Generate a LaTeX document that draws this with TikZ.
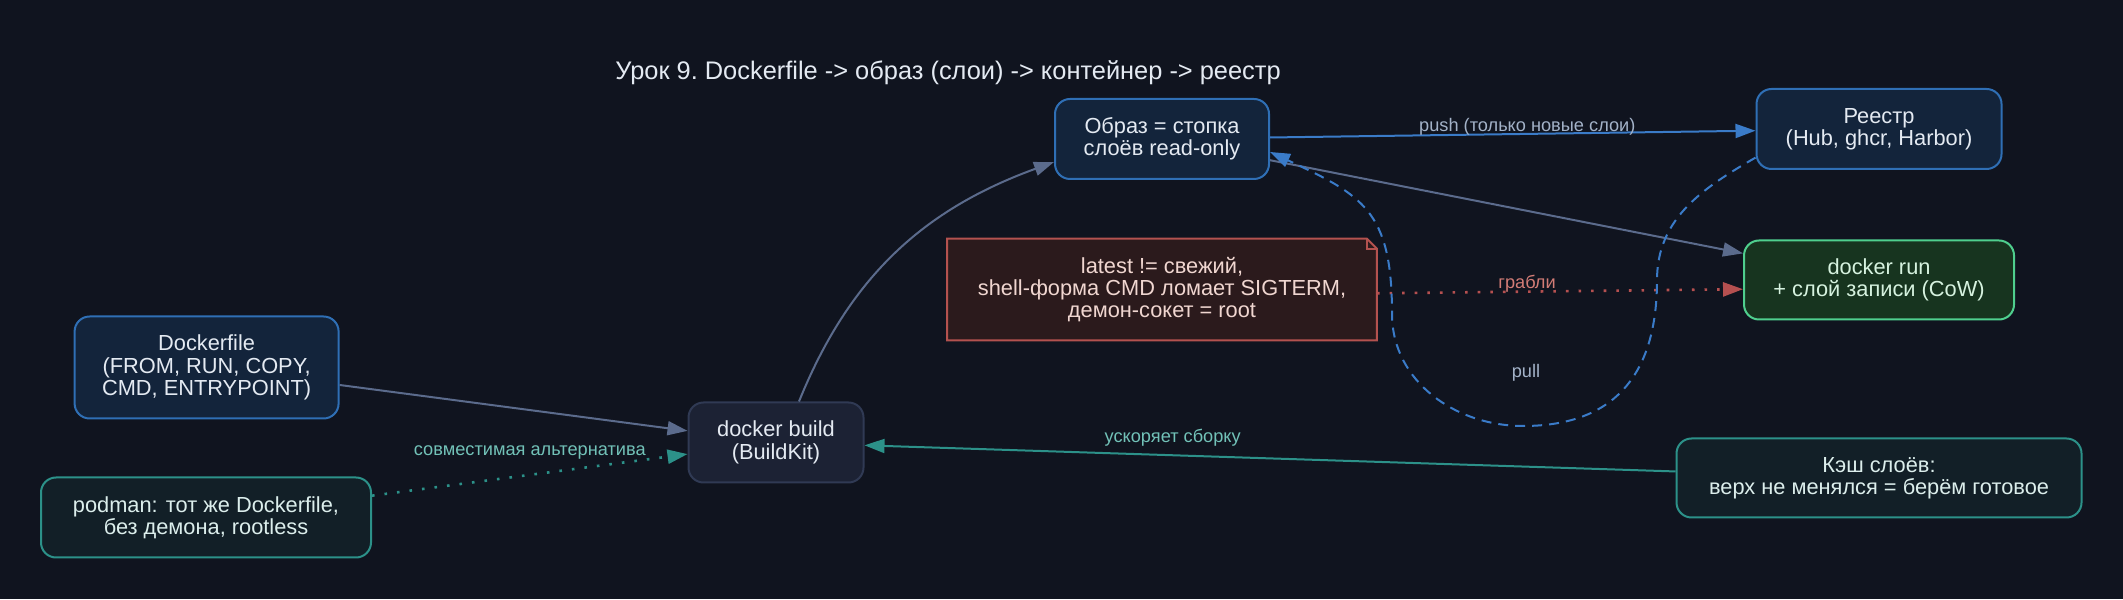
\documentclass[tikz,border=0pt]{standalone}
\usepackage{fontspec}
\setmainfont{Liberation Sans}
\usetikzlibrary{arrows.meta,backgrounds}

% colours
\definecolor{bgdark}{HTML}{10141F}
\definecolor{bluefill}{HTML}{13243B}
\definecolor{blueline}{HTML}{2F6FB5}
\definecolor{buildfill}{HTML}{1C2234}
\definecolor{buildline}{HTML}{303A54}
\definecolor{greenfill}{HTML}{17341F}
\definecolor{greenline}{HTML}{4FCF8E}
\definecolor{tealfill}{HTML}{121F27}
\definecolor{tealline}{HTML}{2C9189}
\definecolor{notefill}{HTML}{2B1A1C}
\definecolor{noteline}{HTML}{B4524F}
\definecolor{slateline}{HTML}{5B6B8C}
\definecolor{arrowblue}{HTML}{3A7BC8}
\definecolor{arrowred}{HTML}{B55050}
\definecolor{boxtext}{HTML}{E4EAF2}
\definecolor{greentext}{HTML}{D6F2DF}
\definecolor{tealtext}{HTML}{DCEEEC}
\definecolor{notetext}{HTML}{F0D6D0}
\definecolor{lblgray}{HTML}{A3B2C8}
\definecolor{lblteal}{HTML}{72C2B8}
\definecolor{lblred}{HTML}{D27C76}

\newcommand\boxfont{\fontsize{10.9}{11.2}\selectfont}
\newcommand\lblfont{\fontsize{9.1}{9.5}\selectfont}
\newcommand\headfont{\fontsize{12.7}{14}\selectfont}

\tikzset{
    box/.style={rounded corners=7.5pt, line width=1pt, align=center, font=\boxfont, inner sep=0pt},
    bluebox/.style={box, fill=bluefill, draw=blueline, text=boxtext},
    buildbox/.style={box, fill=buildfill, draw=buildline, text=boxtext},
    greenbox/.style={box, fill=greenfill, draw=greenline, text=greentext},
    tealbox/.style={box, fill=tealfill, draw=tealline, text=tealtext},
    notebox/.style={align=center, font=\boxfont, inner sep=0pt, text=notetext},
    flow/.style={line width=1pt, -{Triangle[length=10pt,width=7pt]}},
    dots/.style={line width=1.3pt, dash pattern=on 1.3pt off 5pt},
    dashes/.style={dash pattern=on 5pt off 3.5pt},
    lbl/.style={font=\lblfont, inner sep=1pt},
}

\begin{document}
\begin{tikzpicture}[x=0.5pt,y=0.5pt]
    % Define dimensions
    \def\picwidth{2123}
    \def\picheight{599}
    \useasboundingbox (0,0) rectangle (\picwidth,\picheight);
    % Title
    \node[font=\headfont, text=boxtext] (title) at (948,526) {\frenchspacing Урок 9. Dockerfile -> образ (слои) -> контейнер -> реестр};
    % Boxes
    \node[bluebox, minimum width=132pt, minimum height=51pt] (dockerfile) at (206.6,231.5) {Dockerfile\\(FROM, RUN, COPY,\\CMD, ENTRYPOINT)};
    \node[tealbox, minimum width=165pt, minimum height=40pt] (podman) at (206,81.5) {podman: тот же Dockerfile,\\без демона, rootless};
    \node[buildbox, minimum width=87.5pt, minimum height=40pt] (build) at (776,156.5) {docker build\\(BuildKit)};
    \node[bluebox, minimum width=107pt, minimum height=40pt] (image) at (1162,460) {Образ = стопка\\слоёв read-only};
    \node[bluebox, minimum width=122.5pt, minimum height=40pt] (registry) at (1879,470) {Реестр\\(Hub, ghcr, Harbor)};
    \node[greenbox, minimum width=135pt, minimum height=39.5pt] (run) at (1879,319) {docker run\\+ слой записи (CoW)};
    \node[tealbox, minimum width=202.5pt, minimum height=39.5pt] (cache) at (1879,121) {Кэш слоёв:\\верх не менялся = берём готовое};
    \node[notebox, minimum width=214.5pt, minimum height=50.5pt] (pitfalls) at (1162,309.5) {latest != свежий,\\shell-форма CMD ломает SIGTERM,\\демон-сокет = root};
    % Background and note with folded corner
    \begin{scope}[on background layer]
        \fill[bgdark] (0,0) rectangle (\picwidth,\picheight);
        \filldraw[fill=notefill, draw=noteline, line width=1pt] (pitfalls.north west) -- ([xshift=-5pt]pitfalls.north east) -- ([yshift=-5pt]pitfalls.north east) -- (pitfalls.south east) -- (pitfalls.south west) -- cycle;
        \draw[noteline, line width=1pt] ([xshift=-5pt]pitfalls.north east) |- ([yshift=-5pt]pitfalls.north east);
    \end{scope}
    % Connectors
    \coordinate (pullright) at (1657,319);
    \coordinate (pullbottom) at (1523,173);
    \coordinate (pullleft) at (1392,285);
    \draw[flow, slateline] (dockerfile) -- (build);
    \draw[flow, tealline, dots] (podman) -- node[lbl, text=lblteal, above=6pt] {совместимая альтернатива} (build);
    \draw[flow, slateline] ([xshift=11.5pt]build.north) to[out=68, in=200] ([yshift=-11.5pt]image.west);
    \draw[flow, arrowblue] (image) -- node[lbl, text=lblgray, pos=0.53, above=-2pt] {push (только новые слои)} (registry);
    \draw[flow, slateline] (image) -- (run);
    \draw[flow, arrowred, dots] ([yshift=-1.9pt]pitfalls.east) -- node[lbl, text=lblred, pos=0.41, above=-2pt] {грабли} ([yshift=-4.6pt]run.west);
    \draw[flow, tealline] (cache) -- node[lbl, text=lblteal, pos=0.62, above=3pt] {ускоряет сборку} (build);
    \draw[flow, arrowblue, dashes] ([yshift=6.2pt]registry.south west) to[out=210, in=90] (pullright) to[out=-90, in=0, looseness=1.2] (pullbottom) to[out=180, in=-90] (pullleft) to[out=90, in=-25, looseness=1.3] ([yshift=-6.5pt]image.east);
    \node[lbl, text=lblgray] (pulllabel) at (1526,226) {pull};
\end{tikzpicture}
\end{document}
